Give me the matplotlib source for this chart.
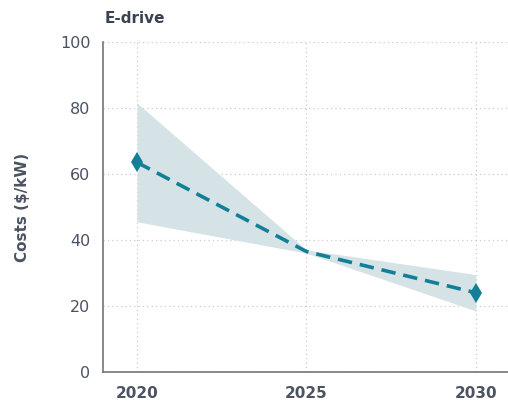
import matplotlib.pyplot as plt

plt.rcParams["font.family"] = ["DejaVu Sans"]

years = [2020, 2025, 2030]
cost_mid = [63.5, 36.5, 24.0]
cost_low = [45.5, 36.0, 18.5]
cost_high = [81.5, 37.0, 29.5]

TEAL = "#137f96"
BAND = "#d5e3e6"
TEXT = "#4b5261"
AXIS = "#6e7480"


def main() -> None:
    fig = plt.figure(figsize=(5.08, 4.03), dpi=100)
    ax = fig.add_axes([0.203, 0.077, 0.797, 0.819])

    ax.fill_between(years, cost_low, cost_high, color=BAND, lw=0, zorder=1)
    ax.plot(years, cost_mid, color=TEAL, lw=2.6, ls=(0, (4, 2.2)), zorder=3)
    # markers only on the end years
    ax.plot(years, cost_mid, color=TEAL, lw=0, marker="d", ms=10, mew=0,
            markevery=[0, 2], zorder=4)

    ax.set_xlim(2019.0, 2030.95)
    ax.set_ylim(0, 100)
    ax.set_xticks(years)
    ax.set_yticks(range(0, 101, 20))
    ax.grid(True, color="#c8ccd2", ls=(0, (1, 2.5)), lw=0.9, zorder=0)
    ax.set_axisbelow(True)

    for side in ("top", "right"):
        ax.spines[side].set_visible(False)
    for side in ("left", "bottom"):
        ax.spines[side].set_color(AXIS)
        ax.spines[side].set_linewidth(1.2)

    ax.tick_params(axis="both", length=0, colors=TEXT)
    ax.tick_params(axis="y", labelsize=11.5, pad=9)
    ax.tick_params(axis="x", labelsize=11, pad=10)
    for lbl in ax.get_xticklabels():
        lbl.set_fontweight("bold")

    ax.set_ylabel("Costs ($/kW)", fontsize=11, fontweight="bold", color=TEXT, labelpad=22)
    fig.text(0.205, 0.953, "E-drive", fontsize=11, fontweight="bold", color="#3a4150",
             ha="left", va="center")

    fig.savefig("out.png", dpi=100)


if __name__ == "__main__":
    main()
